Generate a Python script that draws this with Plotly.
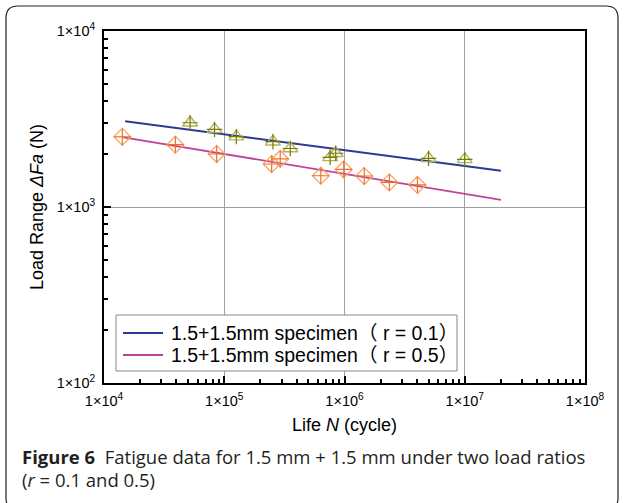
import plotly.graph_objects as go

# ---- data ----
n_r01 = [5.2e4, 8.3e4, 1.26e5, 2.54e5, 3.54e5, 7.6e5, 8.45e5, 5.0e6, 1.0e7]
f_r01 = [3010, 2760, 2510, 2350, 2150, 1915, 2020, 1890, 1865]
n_r05 = [1.42e4, 3.92e4, 8.65e4, 2.48e5, 2.92e5, 6.35e5, 9.85e5, 1.46e6, 2.36e6, 4.04e6]
f_r05 = [2505, 2260, 2000, 1755, 1875, 1505, 1635, 1500, 1380, 1335]
fit_n_r01 = [1.5e4, 2.0e7]
fit_f_r01 = [3070, 1607]
fit_n_r05 = [1.45e4, 2.0e7]
fit_f_r05 = [2490, 1097]
x_ticks = [1e4, 1e5, 1e6, 1e7, 1e8]
x_ticktext = ["1×10<sup>4</sup>", "1×10<sup>5</sup>", "1×10<sup>6</sup>", "1×10<sup>7</sup>", "1×10<sup>8</sup>"]
y_ticks = [1e2, 1e3, 1e4]
y_ticktext = ["1×10<sup>2</sup>", "1×10<sup>3</sup>", "1×10<sup>4</sup>"]
legend_names = ["1.5+1.5mm specimen（ r = 0.1）", "1.5+1.5mm specimen（ r = 0.5）"]
line_colors = ["#2b3b95", "#c0439a"]

W, H = 624, 503
L, R, T, B = 104, 39, 31, 120
pw, ph = W - L - R, H - T - B

def px(x):
    return (x - L) / pw

def py(y):
    return (H - B - y) / ph

FONT = "'Liberation Sans', Arial, 'Noto Sans CJK SC', sans-serif"

fig = go.Figure()
fig.add_trace(go.Scatter(x=fit_n_r01, y=fit_f_r01, mode="lines", name=legend_names[0],
                         line=dict(color=line_colors[0], width=1.8)))
fig.add_trace(go.Scatter(x=fit_n_r05, y=fit_f_r05, mode="lines", name=legend_names[1],
                         line=dict(color=line_colors[1], width=1.8)))
fig.add_trace(go.Scatter(x=n_r01, y=f_r01, mode="markers",
                         marker=dict(symbol="triangle-up-open", size=13, color="#b4b45a",
                                     line=dict(width=1.4, color="#b4b45a"))))
fig.add_trace(go.Scatter(x=n_r01, y=f_r01, mode="markers",
                         marker=dict(symbol="cross-thin-open", size=11, color="#7a7a00",
                                     line=dict(width=1.2, color="#7a7a00"))))
fig.add_trace(go.Scatter(x=n_r05, y=f_r05, mode="markers",
                         marker=dict(symbol="diamond-open", size=13, color="#f9a46a",
                                     line=dict(width=1.3, color="#f9a46a"))))
fig.add_trace(go.Scatter(x=n_r05, y=f_r05, mode="markers",
                         marker=dict(symbol="cross-thin-open", size=12, color="#f07020",
                                     line=dict(width=1.2, color="#f07020"))))

minor_x = [m * 10 ** e for e in range(4, 8) for m in range(2, 10)]
minor_y = [m * 10 ** e for e in range(2, 4) for m in range(2, 10)]

fig.update_xaxes(type="log", range=[4, 8], tickmode="array", tickvals=x_ticks, ticktext=x_ticktext,
                 showgrid=True, gridcolor="#a0a0a0", gridwidth=1,
                 showline=True, linecolor="black", linewidth=2, mirror=True,
                 ticks="inside", ticklen=7, tickwidth=2, tickcolor="black",
                 tickfont=dict(family=FONT, size=14.5, color="black"), ticklabelstandoff=4,
                 minor=dict(tickmode="array", tickvals=minor_x, ticks="inside", ticklen=4,
                            tickwidth=1.5, tickcolor="black", showgrid=False),
                 title=dict(text="Life <i>N</i> (cycle)", font=dict(family=FONT, size=18, color="black"),
                            standoff=10), zeroline=False)
fig.update_yaxes(type="log", range=[2, 4], tickmode="array", tickvals=y_ticks, ticktext=y_ticktext,
                 showgrid=True, gridcolor="#a0a0a0", gridwidth=1,
                 showline=True, linecolor="black", linewidth=2, mirror=True,
                 ticks="inside", ticklen=7, tickwidth=2, tickcolor="black",
                 tickfont=dict(family=FONT, size=14.5, color="black"), ticklabelstandoff=4,
                 minor=dict(tickmode="array", tickvals=minor_y, ticks="inside", ticklen=4,
                            tickwidth=1.5, tickcolor="black", showgrid=False),
                 title=dict(text="Load Range <i>ΔFa</i> (N)", font=dict(family=FONT, size=18, color="black"),
                            standoff=8), zeroline=False)

# manual legend
fig.add_shape(type="rect", xref="paper", yref="paper", x0=px(116), x1=px(457), y0=py(315), y1=py(371),
              fillcolor="white", line=dict(color="#888888", width=1), layer="above")
for i, (name, col) in enumerate(zip(legend_names, line_colors)):
    yc = 333 + i * 22
    fig.add_shape(type="line", xref="paper", yref="paper", x0=px(123), x1=px(163), y0=py(yc), y1=py(yc),
                  line=dict(color=col, width=2), layer="above")
    fig.add_annotation(text=name, xref="paper", yref="paper", x=px(169), y=py(yc),
                       xanchor="left", yanchor="middle", showarrow=False,
                       font=dict(family=FONT, size=19.5, color="black"))

# rounded frame around whole figure
x0, y0, x1, y1, r = px(6), py(6), px(618), py(510), 12
rx, ry = r / pw, r / ph
path = (f"M {x0+rx},{y0} L {x1-rx},{y0} Q {x1},{y0} {x1},{y0-ry} L {x1},{y1+ry} "
        f"Q {x1},{y1} {x1-rx},{y1} L {x0+rx},{y1} Q {x0},{y1} {x0},{y1+ry} "
        f"L {x0},{y0-ry} Q {x0},{y0} {x0+rx},{y0} Z")
fig.add_shape(type="path", path=path, xref="paper", yref="paper",
              line=dict(color="#222222", width=1.2), layer="above")

CAP = "'Open Sans', 'Noto Sans', sans-serif"
fig.add_annotation(text="<b>Figure 6</b>  Fatigue data for 1.5 mm + 1.5 mm under two load ratios",
                   xref="paper", yref="paper", x=px(20), y=py(456), xanchor="left", yanchor="middle",
                   showarrow=False, font=dict(family=CAP, size=18.5, color="#231f20"))
fig.add_annotation(text="(<i>r</i> = 0.1 and 0.5)",
                   xref="paper", yref="paper", x=px(20), y=py(479), xanchor="left", yanchor="middle",
                   showarrow=False, font=dict(family=CAP, size=18.5, color="#231f20"))

fig.update_layout(width=W, height=H, margin=dict(l=L, r=R, t=T, b=B),
                  paper_bgcolor="white", plot_bgcolor="white", showlegend=False)

fig.write_html("out.html", config={"displayModeBar": False},
               post_script="document.body.style.margin='0px';")
